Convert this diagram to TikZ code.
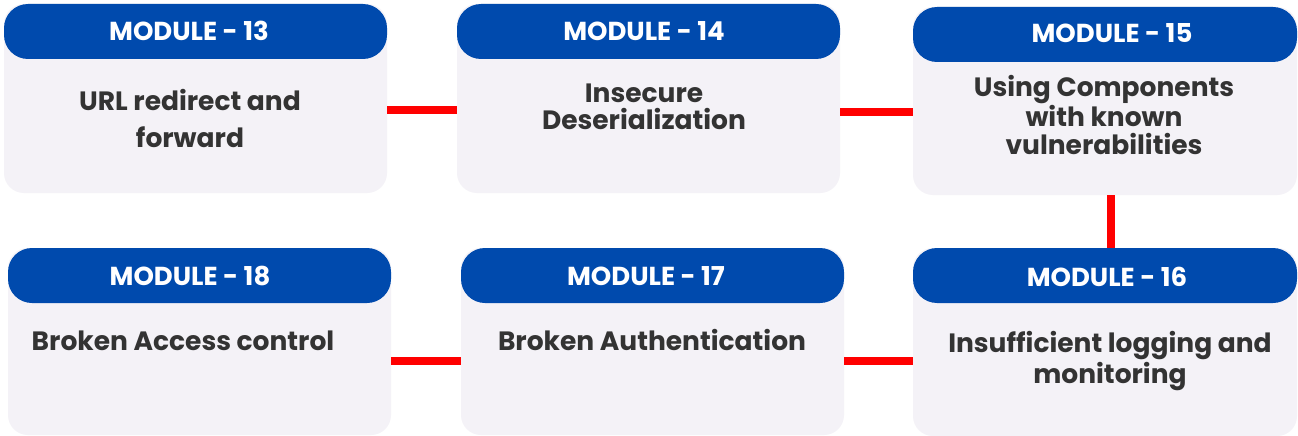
\documentclass[tikz,border=0pt]{standalone}
\usepackage{fontspec}
\setmainfont{Poppins}
\definecolor{hdrblue}{HTML}{004AAD}
\definecolor{cardgrey}{HTML}{F4F2F7}
\definecolor{txtdark}{HTML}{333333}
\definecolor{linkred}{HTML}{FF0000}
\tikzset{
  cardbody/.style={anchor=north west, fill=cardgrey, rounded corners=20pt, inner sep=0pt, outer sep=0pt},
  cardhead/.style={anchor=north west, fill=hdrblue, rounded corners=24pt, inner sep=0pt, outer sep=0pt},
  headtxt/.style={anchor=base, text=white, font=\fontsize{26}{28}\selectfont\bfseries, inner sep=0pt},
  bodytxt/.style={anchor=base, text=txtdark, align=center, font=\fontsize{26.5}{28}\selectfont\bfseries, inner sep=0pt},
  link/.style={draw=linkred, line width=8pt}
}
\begin{document}
\begin{tikzpicture}[x=1pt,y=-1pt]
\useasboundingbox[fill=white] (0,0) rectangle (1298,436);
% cards
\node[cardbody, minimum width=383pt, minimum height=189pt] (c13) at (4,4) {};
\node[cardhead, minimum width=383pt, minimum height=55pt] (h13) at (4,4) {};
\node[cardbody, minimum width=383pt, minimum height=189pt] (c14) at (457,4) {};
\node[cardhead, minimum width=383pt, minimum height=55pt] (h14) at (457,4) {};
\node[cardbody, minimum width=384pt, minimum height=188pt] (c15) at (913,7) {};
\node[cardhead, minimum width=384pt, minimum height=55pt] (h15) at (913,7) {};
\node[cardbody, minimum width=383pt, minimum height=187pt] (c18) at (8,248) {};
\node[cardhead, minimum width=383pt, minimum height=55pt] (h18) at (8,248) {};
\node[cardbody, minimum width=383pt, minimum height=187pt] (c17) at (461,248) {};
\node[cardhead, minimum width=383pt, minimum height=55pt] (h17) at (461,248) {};
\node[cardbody, minimum width=384pt, minimum height=188pt] (c16) at (913,248) {};
\node[cardhead, minimum width=384pt, minimum height=55pt] (h16) at (913,248) {};
% header texts
\node[headtxt] (t13) at (189,41) {MODULE - 13};
\node[headtxt] (t14) at (644,41) {MODULE - 14};
\node[headtxt] (t15) at (1112,43) {MODULE - 15};
\node[headtxt] (t18) at (190,285) {MODULE - 18};
\node[headtxt] (t17) at (646,285) {MODULE - 17};
\node[headtxt] (t16) at (1107,286) {MODULE - 16};
% body texts (multi-line: anchored at the last line's baseline)
\node[bodytxt, font=\fontsize{26.5}{37}\selectfont\bfseries] (b13) at (190,147) {URL redirect and\\forward};
\node[bodytxt, font=\fontsize{26.5}{27}\selectfont\bfseries] (b14) at (644,129) {Insecure\\Deserialization};
\node[bodytxt] (b15) at (1104,154) {Using Components\\with known\\vulnerabilities};
\node[bodytxt] (b18) at (183,350) {Broken Access control};
\node[bodytxt] (b17) at (652,350) {Broken Authentication};
\node[bodytxt, font=\fontsize{26.5}{31}\selectfont\bfseries] (b16) at (1110,383) {Insufficient logging and\\monitoring};
% connectors
\coordinate (y1) at (0,110);
\coordinate (y2) at (0,112);
\coordinate (y3) at (0,361);
\coordinate (xv) at (1110.5,0);
\draw[link] (c13.east |- y1) -- (c14.west |- y1);
\draw[link] (c14.east |- y2) -- (c15.west |- y2);
\draw[link] (c15.south -| xv) -- (h16.north -| xv);
\draw[link] (c18.east |- y3) -- (c17.west |- y3);
\draw[link] (c17.east |- y3) -- (c16.west |- y3);
\end{tikzpicture}
\end{document}
